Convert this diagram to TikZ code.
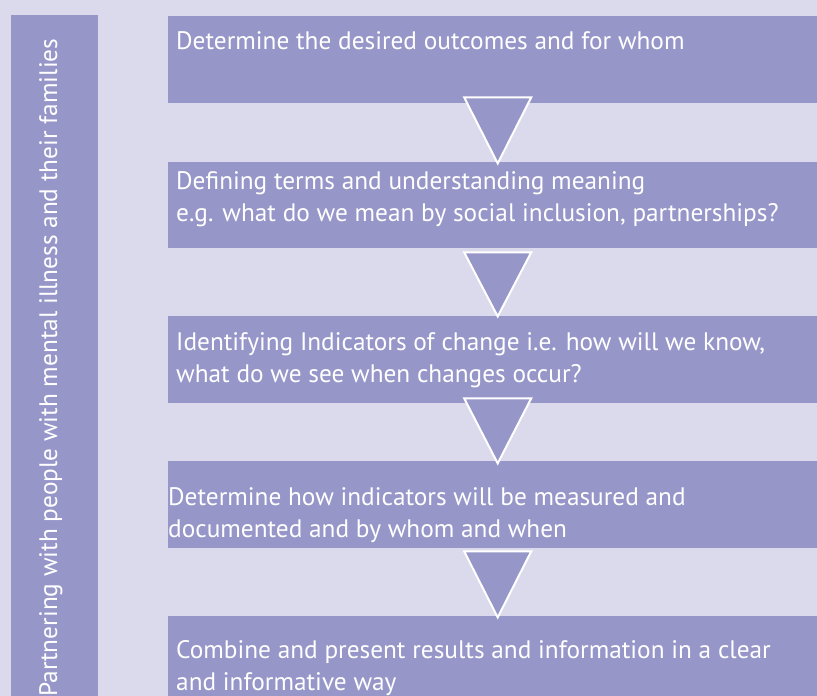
\documentclass[tikz,border=0pt]{standalone}
\usepackage{fontspec}
\setmainfont{PT Sans}
\definecolor{pagebg}{RGB}{218,218,236}
\definecolor{boxfill}{RGB}{150,150,201}
\tikzset{
    stepbox/.style={fill=boxfill, draw=none, anchor=north west, inner sep=0pt, minimum width=649pt},
    steptext/.style={anchor=base west, inner sep=0pt, text=white, align=left, font=\fontsize{25.3}{31.5}\selectfont},
    downtri/.style={fill=boxfill, draw=white, line width=2pt}
}
\begin{document}
\begin{tikzpicture}[x=1pt,y=-1pt]
        \fill[pagebg] (0,0) rectangle (817,696);
        \useasboundingbox (0,0) rectangle (817,696);

        % side bar
        \node[stepbox, minimum width=87pt, minimum height=681pt] (side) at (11,15) {};
        \node[steptext, rotate=90] (sidetext) at (57,697) {Partnering with people with mental illness and their families};

        % steps
        \node[stepbox, minimum height=87pt] (b1) at (168,16) {};
        \node[stepbox, minimum height=86pt] (b2) at (168,162) {};
        \node[stepbox, minimum height=87pt] (b3) at (168,316) {};
        \node[stepbox, minimum height=87pt] (b4) at (168,461) {};
        \node[stepbox, minimum height=80pt] (b5) at (168,616) {};

        % text sits on the baseline of its last line
        \node[steptext] (t1) at (176,49) {Determine the desired outcomes and for whom};
        \node[steptext] (t2) at (176,221) {Defining terms and understanding meaning\\e.g. what do we mean by social inclusion, partnerships?};
        \node[steptext] (t3) at (176,382) {Identifying Indicators of change i.e. how will we know,\\what do we see when changes occur?};
        \node[steptext] (t4) at (168,537) {Determine how indicators will be measured and\\documented and by whom and when};
        \node[steptext] (t5) at (176,690) {Combine and present results and information in a clear\\and informative way};

        % arrows between steps
        \draw[downtri] ([xshift=-28.5pt,yshift=6pt]b1.south) -- ++(67,0) -- ++(-33.5,66) -- cycle;
        \draw[downtri] ([xshift=-28.5pt,yshift=-4pt]b2.south) -- ++(67,0) -- ++(-33.5,64) -- cycle;
        \draw[downtri] ([xshift=-28.5pt,yshift=5pt]b3.south) -- ++(67,0) -- ++(-33.5,65) -- cycle;
        \draw[downtri] ([xshift=-28.5pt,yshift=-3pt]b4.south) -- ++(67,0) -- ++(-33.5,66) -- cycle;
    \end{tikzpicture}
\end{document}
